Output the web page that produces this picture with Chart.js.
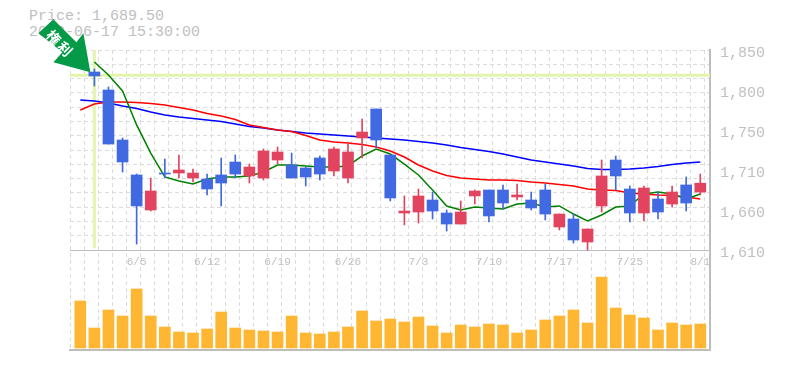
<!DOCTYPE html>
<html lang="en">
<head>
    <meta charset="UTF-8">
    <title>Price chart</title>
    <style>
        html, body {margin: 0; padding: 0; background: #fff; overflow: hidden;}
        #wrap {position: relative; width: 785px; height: 370px;}
        #info {position: absolute; left: 29px; top: 9px; font: 15px/16px "Liberation Mono", monospace; color: #c0c0c0; white-space: pre;}
        canvas {position: absolute; left: 0; top: 0;}
    </style>
    <script src="https://cdn.jsdelivr.net/npm/chart.js@4/dist/chart.umd.js"></script>
</head>
<body>
<div id="wrap">
    <div id="info">Price: 1,689.50
2023-06-17 15:30:00</div>
    <canvas id="priceChart" width="785" height="370"></canvas>
</div>

<script>
// trading days, one per volume bar
const categories = ['5/30','5/31','6/1','6/2','6/5','6/6','6/7','6/8','6/9','6/12','6/13','6/14','6/15','6/16','6/19',
    '6/20','6/21','6/22','6/23','6/26','6/27','6/28','6/29','6/30','7/3','7/4','7/5','7/6','7/7','7/10',
    '7/11','7/12','7/13','7/14','7/17','7/18','7/19','7/20','7/21','7/25','7/26','7/27','7/28','7/31','8/1'];

const opens = [null,1821.8,1800.4,1740.9,1699.3,1657.6,1701.6,1701.6,1695.7,1694.5,1699.3,1714.7,1698.1,1695.7,1717.1,
    1711.2,1707.6,1719.5,1704.0,1695.7,1743.3,1777.8,1723.1,1654.0,1655.2,1669.5,1654.0,1640.9,1674.3,1681.4,
    1681.4,1673.1,1669.5,1681.4,1637.4,1646.9,1619.5,1662.4,1717.1,1682.6,1654.0,1670.7,1664.7,1687.4,1679.0];
const closes = [null,1817.1,1736.1,1714.7,1662.4,1680.2,1700.4,1705.2,1701.6,1682.6,1689.7,1700.4,1708.8,1727.8,1726.6,
    1695.7,1696.9,1700.4,1730.2,1726.6,1750.4,1740.9,1671.9,1656.4,1674.3,1656.4,1640.9,1655.2,1680.2,1650.5,
    1665.9,1675.5,1660.0,1652.8,1652.8,1621.9,1635.0,1698.1,1698.1,1654.0,1683.8,1655.2,1679.0,1665.9,1689.5];
const highs = [null,1825.4,1804.0,1743.3,1700.4,1695.7,1718.3,1723.1,1706.4,1700.4,1719.5,1723.1,1712.3,1730.2,1732.6,
    1725.4,1708.8,1721.9,1732.6,1738.5,1765.9,1777.8,1723.1,1674.3,1682.6,1679.0,1657.6,1668.3,1681.4,1681.4,
    1687.4,1688.5,1679.0,1688.5,1652.8,1652.8,1635.0,1717.1,1721.9,1686.2,1686.2,1679.0,1686.2,1696.9,1700.4];
const lows = [null,1805.2,1736.1,1702.8,1617.1,1656.4,1695.7,1695.7,1690.9,1675.5,1662.4,1695.7,1689.7,1693.3,1712.3,
    1695.7,1686.2,1693.3,1698.1,1689.7,1719.5,1731.4,1668.3,1639.8,1642.1,1646.9,1632.6,1640.9,1664.7,1643.3,
    1658.8,1669.5,1657.6,1645.7,1633.8,1618.3,1610.0,1655.2,1681.4,1643.3,1644.5,1646.9,1661.2,1656.4,1675.5];

// moving averages
const maShort = [null,1833.7,1818.3,1799.2,1758.8,1725.4,1696.9,1692.1,1688.5,1694.5,1696.9,1696.9,1698.1,1702.8,1711.2,
    1711.2,1710.0,1708.8,1708.8,1710.0,1721.9,1730.2,1724.2,1712.3,1699.3,1681.4,1662.4,1657.6,1661.2,1660.0,
    1658.8,1664.7,1665.9,1661.2,1662.4,1652.8,1644.5,1651.7,1661.2,1662.4,1676.6,1679.0,1676.6,1670.7,1676.6];
const maMid = [1776.6,1783.7,1786.1,1786.1,1785.5,1784.3,1782.6,1779.6,1776.6,1772.4,1769.5,1765.3,1758.8,1755.8,1752.8,
    1751.0,1746.3,1740.9,1738.5,1737.3,1735.5,1732.6,1727.8,1720.7,1711.2,1704.0,1698.7,1695.7,1694.5,1693.3,
    1693.3,1692.7,1690.9,1689.7,1687.9,1686.2,1682.6,1681.4,1680.8,1677.8,1676.6,1675.5,1674.9,1673.1,1670.7];
const maLong = [1788.5,1787.3,1784.9,1781.4,1778.4,1774.2,1770.7,1768.3,1766.5,1764.7,1762.9,1759.9,1757.0,1755.2,1752.8,
    1751.0,1749.2,1748.0,1746.9,1745.7,1744.5,1743.3,1742.1,1740.9,1739.1,1737.3,1735.0,1732.0,1729.6,1727.2,
    1724.2,1720.7,1717.1,1714.7,1712.3,1710.0,1707.0,1705.8,1705.8,1706.4,1707.6,1709.4,1711.7,1713.5,1714.7];

const volumes = [47000,20000,38000,32000,59000,32000,21000,16000,15000,19000,36000,20000,18000,17000,16000,
    32000,15000,14000,16000,21000,37000,27000,29000,26000,31000,22000,15000,23000,21000,24000,
    23000,15000,18000,28000,32000,38000,25000,71000,40000,33000,30000,18000,25000,23000,24000];

const priceTicks = [1610,1657.6,1705.2,1752.8,1800.4,1848];
const priceTickLabels = ['1,610','1,660','1,710','1,750','1,800','1,850'];
const dateTickIndexes = [4,9,14,19,24,29,34,39,44];

const markedIndex = 1;
const markedPrice = 1818;
const markText = ['権', '利'];

const BLUE = '#4169e1', RED = '#e2445f';
const xMin = -0.73, xMax = 44.69;
const priceBottom = 1491, priceTop = 1848;
const gridColor = '#dcdcdc', axisColor = '#bdbdbd', textColor = '#c0c0c0';

const candleColor = categories.map((c, i) => closes[i] >= opens[i] ? RED : BLUE);
const xy = arr => arr.map((v, i) => ({x: i, y: v})).filter(p => p.y !== null);
const span = (a, b) => a.map((v, i) => ({x: i, y: [v, b[i]]})).filter(p => p.y[0] !== null);

function lineSet(data, color, order) {
    return {type: 'line', data: data, borderColor: color, borderWidth: 1.5, pointRadius: 0, tension: 0, order: order, xAxisID: 'x', yAxisID: 'y'};
}

// green arrow pointing at the marked candle
const markPlugin = {
    id: 'mark',
    afterDatasetsDraw(chart) {
        const c = chart.ctx;
        const tx = chart.scales.x.getPixelForValue(markedIndex) - 4;
        const ty = chart.scales.y.getPixelForValue(markedPrice) - 3;
        c.save();
        c.translate(tx, ty);
        c.fillStyle = '#059a47';
        c.beginPath();
        c.moveTo(0, 0);
        c.lineTo(-37, -10);
        c.lineTo(-28, -20);
        c.lineTo(-52, -39);
        c.lineTo(-37, -53);
        c.lineTo(-14, -30);
        c.lineTo(-7, -39);
        c.closePath();
        c.fill();
        c.translate(-31, -29);
        c.rotate(Math.PI / 4);
        c.fillStyle = '#fff';
        c.font = 'bold 14px "Noto Sans CJK JP"';
        c.textAlign = 'center';
        c.textBaseline = 'middle';
        c.fillText(markText[0], -8, 0);
        c.fillText(markText[1], 8, 0);
        c.restore();
    }
};

new Chart(document.getElementById('priceChart'), {
    data: {
        datasets: [
            {type: 'bar', data: span(opens, closes), backgroundColor: candleColor.slice(1), barThickness: 11, grouped: false, order: 1, xAxisID: 'x', yAxisID: 'y'},
            {type: 'bar', data: span(lows, highs), backgroundColor: candleColor.slice(1), barThickness: 1, grouped: false, order: 2, xAxisID: 'x', yAxisID: 'y'},
            lineSet(xy(maShort), '#008000', 3),
            lineSet(xy(maMid), '#ff0000', 4),
            lineSet(xy(maLong), '#0000ff', 5),
            {type: 'bar', data: xy(volumes), backgroundColor: '#ffb733', barThickness: 11, grouped: false, order: 6, xAxisID: 'x', yAxisID: 'yVol'},
            {type: 'line', data: [{x: xMin, y: markedPrice}, {x: xMax, y: markedPrice}], borderColor: '#e3f5ad', borderWidth: 3, pointRadius: 0, order: 7, xAxisID: 'x', yAxisID: 'y'},
            {type: 'line', data: [{x: markedIndex, y: 1612}, {x: markedIndex, y: priceTop}], borderColor: '#e3f5ad', borderWidth: 3, pointRadius: 0, order: 7, xAxisID: 'x', yAxisID: 'y'}
        ]
    },
    options: {
        responsive: false,
        animation: false,
        devicePixelRatio: 1,
        layout: {padding: {left: 70, top: 50, bottom: 20, right: 0}},
        plugins: {legend: {display: false}, tooltip: {enabled: false}},
        scales: {
            x: {
                type: 'linear', offset: false, min: xMin, max: xMax, position: {y: 1610},
                grid: {display: false, drawTicks: false},
                border: {display: true, color: axisColor, width: 1},
                afterBuildTicks: s => { s.ticks = dateTickIndexes.map(v => ({value: v})); },
                ticks: {
                    autoSkip: false, maxRotation: 0, padding: 5, color: textColor,
                    font: {family: '"Liberation Mono"', size: 11},
                    callback: v => categories[v]
                }
            },
            // vertical dashed grid, sits between the candles
            xGrid: {
                type: 'linear', axis: 'x', offset: false, position: 'bottom', min: xMin, max: xMax,
                afterBuildTicks: s => { s.ticks = categories.map((c, i) => ({value: i - 0.72 + 1})).concat([{value: -0.72}]); },
                grid: {color: gridColor, lineWidth: 1, drawTicks: false},
                border: {display: true, color: axisColor, width: 2, dash: [4, 3]},
                ticks: {display: false}
            },
            y: {
                type: 'linear', position: 'right', min: priceBottom, max: priceTop,
                afterBuildTicks: s => { s.ticks = priceTicks.map(v => ({value: v})); },
                afterFit: s => { s.width = 75; },
                grid: {display: false, drawTicks: false},
                border: {display: true, color: axisColor, width: 2},
                ticks: {
                    padding: 10, color: textColor, labelOffset: 3, align: 'center', crossAlign: 'near',
                    font: {family: '"Liberation Mono"', size: 15},
                    callback: (v, i) => priceTickLabels[i]
                }
            },
            // horizontal dashed grid, price panel only
            yGrid: {
                type: 'linear', axis: 'y', position: 'left', min: priceBottom, max: priceTop,
                afterBuildTicks: s => { s.ticks = Array.from({length: 14}, (_, k) => ({value: 1627 + 17 * k})); },
                grid: {color: gridColor, lineWidth: 1, drawTicks: false},
                border: {display: false, dash: [4, 3]},
                ticks: {display: false}
            },
            yVol: {
                type: 'linear', display: false, min: -2000, max: 298000
            }
        }
    },
    plugins: [markPlugin]
});
</script>
</body>
</html>
